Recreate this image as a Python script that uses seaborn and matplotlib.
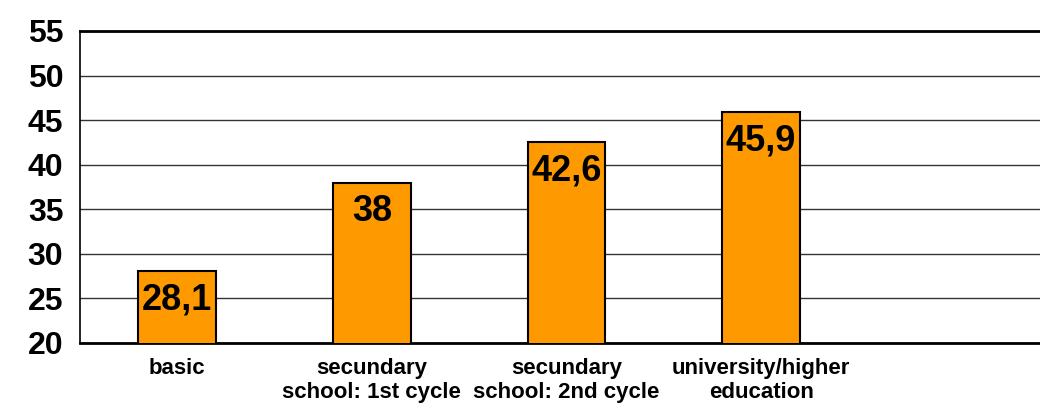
import pandas as pd
import seaborn as sns
import matplotlib.pyplot as plt

categories = ["basic", "secundary\nschool: 1st cycle", "secundary\nschool: 2nd cycle", "university/higher\neducation"]
values = [28.1, 38, 42.6, 45.9]
value_labels = ["28,1", "38", "42,6", "45,9"]
yticks = [20, 25, 30, 35, 40, 45, 50, 55]

sns.set_style("white")
plt.rcParams['font.family'] = ['Liberation Sans', 'DejaVu Sans']
plt.rcParams['font.weight'] = 'bold'
plt.rcParams['text.color'] = 'black'
plt.rcParams['xtick.color'] = 'black'
plt.rcParams['ytick.color'] = 'black'

data = pd.DataFrame({"level": categories, "value": values})

fig = plt.figure(figsize=(10.4, 4.05), dpi=100)
ax = fig.add_axes([80/1040, 62/405, 5*194.6/1040, 312/405])

sns.barplot(data=data, x="level", y="value", color="#FF9900", width=0.4,
            edgecolor="black", linewidth=1.5, saturation=1, ax=ax, zorder=3)

for i, (v, lab) in enumerate(zip(values, value_labels)):
    ax.annotate(lab, xy=(i, v), xytext=(0, -21), textcoords="offset points",
                ha="center", va="center", fontsize=26, fontweight="bold",
                color="black", zorder=4)

ax.set_ylim(20, 55)
ax.set_xlim(-0.5, 4.5)
ax.set_yticks(yticks)
ax.set_yticklabels([str(t) for t in yticks], fontsize=23, fontweight="bold")
ax.yaxis.grid(True, color="#333333", linewidth=1, zorder=0)
ax.set_axisbelow(True)

ax.set_xticks(range(len(categories)))
ax.set_xticklabels(categories, fontsize=16, fontweight="bold", linespacing=1.15)
ax.set_xticks([-0.5, 0.5, 1.5, 2.5, 3.5], minor=True)
ax.tick_params(axis="x", which="major", length=0, pad=11)
ax.tick_params(axis="x", which="minor", length=5, width=1, color="#666666", direction="out")
ax.tick_params(axis="y", length=7, width=1, color="#222222", direction="out", pad=5)

for s in ["left", "bottom", "top"]:
    ax.spines[s].set_visible(True)
    ax.spines[s].set_color("black")
ax.spines["left"].set_linewidth(1.2)
ax.spines["bottom"].set_linewidth(2)
ax.spines["top"].set_linewidth(2)
ax.spines["right"].set_visible(False)

ax.set_xlabel("")
ax.set_ylabel("")

plt.savefig("out.png", dpi=100)
